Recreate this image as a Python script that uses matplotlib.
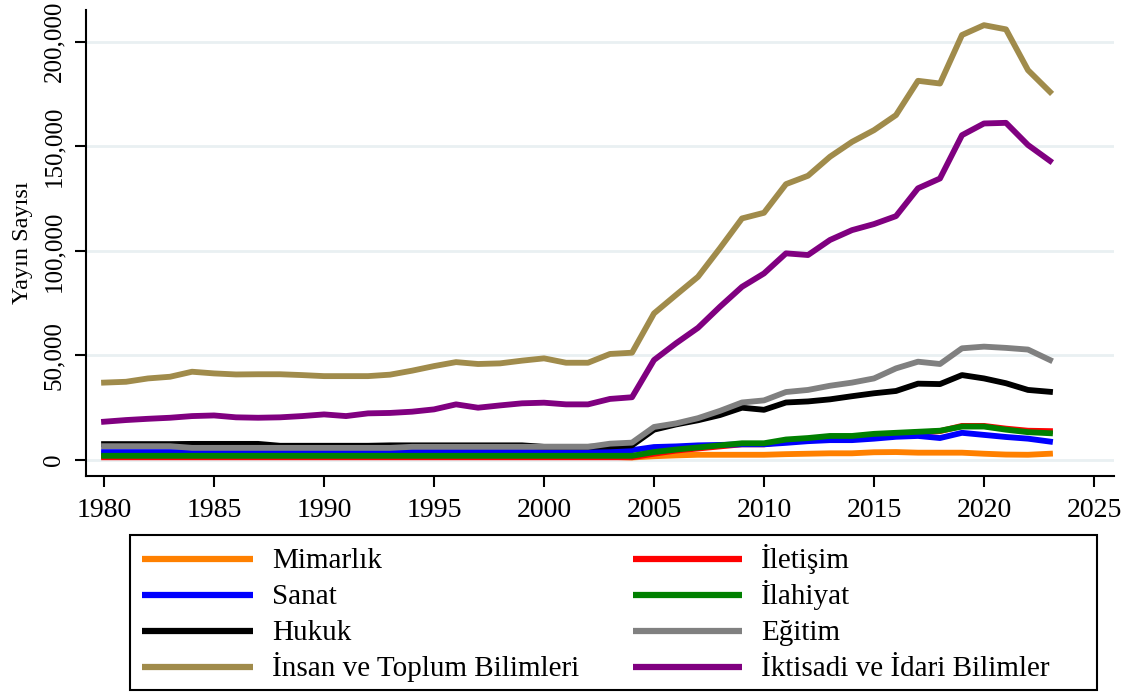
import matplotlib
matplotlib.use("Agg")
import matplotlib.pyplot as plt
from matplotlib.patches import Rectangle
from matplotlib.lines import Line2D
from matplotlib.ticker import FuncFormatter

years = list(range(1980, 2024))

mimarlik = [2900] * 21 + [2500, 2500, 1500, 1200,
            1800, 2200, 2500, 2500, 2500, 2500, 2800, 3000, 3200, 3200,
            3700, 3800, 3500, 3500, 3500, 3000, 2600, 2500, 3000]
iletisim = [1300] * 25 + [3000, 4500, 5500, 6500, 7500, 7500, 9000, 10000, 11000, 11000,
            12000, 12500, 13000, 13800, 16300, 16300, 15000, 14000, 13800]
sanat = [3800] * 14 + [4700] * 11 + [6200, 6500, 7000, 7200, 7500, 7500, 8200, 9000, 9500, 9500,
         10200, 11100, 11500, 10500, 13000, 12000, 11000, 10200, 8800]
ilahiyat = [2000] * 25 + [3800, 5000, 6000, 7000, 8000, 8000, 9800, 10500, 11500, 11500,
            12500, 13000, 13500, 14000, 16000, 16000, 14500, 13300, 12800]
hukuk = [7600] * 4 + [7700] * 4 + [6800] * 5 + [7000] * 7 + [6300, 6300, 6300, 6500, 7000,
         14500, 17000, 19000, 21500, 25000, 24000, 27500, 28000, 29000, 30500,
         31900, 33000, 36500, 36300, 40600, 39000, 36700, 33500, 32600]
egitim = [6600] * 4 + [5800] * 10 + [6300] * 9 + [7800, 8300,
          15800, 17500, 20000, 23500, 27500, 28500, 32500, 33500, 35500, 37000,
          39000, 43800, 47000, 45900, 53400, 54200, 53600, 52800, 47800]
insan = [37000, 37400, 39000, 39800, 42200, 41400, 40900, 41000, 41000, 40600,
         40100, 40100, 40100, 40800, 42700, 44900, 46800, 45900, 46200, 47500,
         48600, 46500, 46500, 50700, 51300, 70100, 78900, 87600, 101300, 115500,
         118200, 131900, 135900, 145000, 152100, 157700, 164900, 181300, 180000, 203200,
         207900, 205900, 186400, 176000]
iktisadi = [18300, 19100, 19700, 20200, 21000, 21300, 20400, 20200, 20400, 21000,
            21800, 21000, 22300, 22500, 23100, 24200, 26600, 25000, 26100, 27100,
            27400, 26600, 26600, 29200, 30000, 47800, 55800, 63200, 73300, 82800,
            89200, 98800, 98000, 105200, 109900, 112800, 116600, 129900, 134600, 155300,
            160900, 161200, 150600, 143000]

labels = ["Mimarlık", "İletişim", "Sanat", "İlahiyat", "Hukuk", "Eğitim",
          "İnsan ve Toplum Bilimleri", "İktisadi ve İdari Bilimler"]
colors = ["#ff8000", "#ff0000", "#0000ff", "#008000", "#000000", "#808080",
          "#a08b4b", "#800080"]
series = [mimarlik, iletisim, sanat, ilahiyat, hukuk, egitim, insan, iktisadi]

plt.rcParams['font.family'] = ['Liberation Serif', 'DejaVu Serif']

W, H = 1137, 693
fig = plt.figure(figsize=(W / 100, H / 100), dpi=100)
ax = fig.add_axes([86 / W, 1 - 476 / H, (1114 - 86) / W, (476 - 10) / H])

for vals, lab, col in zip(series, labels, colors):
    ax.plot(years, vals, color=col, lw=4.2, label=lab)

ax.set_xlim(1979.18, 2025.91)
ax.set_ylim(-7650, 215150)
ax.set_xticks(range(1980, 2030, 5))
ax.set_yticks(range(0, 200001, 50000))
ax.yaxis.set_major_formatter(FuncFormatter(lambda v, p: f"{int(v):,}"))
ax.grid(axis='y', color='#e9f0f2', lw=2)
ax.set_axisbelow(True)
for s in ['top', 'right']:
    ax.spines[s].set_visible(False)
for s in ['left', 'bottom']:
    ax.spines[s].set_linewidth(1.5)
ax.tick_params(axis='x', labelsize=20, length=8, width=1.5, pad=8)
ax.tick_params(axis='y', labelsize=18, length=8, width=1.5, pad=7)
for t in ax.get_yticklabels():
    t.set_rotation(90)
    t.set_va('center')
ax.set_ylabel("Yayın Sayısı", fontsize=17.5, labelpad=7)

# legend box, two columns filled row by row
fig.patches.append(Rectangle((130 / W, 1 - 690 / H), (1097 - 130) / W, (690 - 535) / H,
                             transform=fig.transFigure, fill=False, edgecolor='black', lw=1.5))
row_y = [559, 595, 631, 667]
col_x = [(142, 253, 272), (633, 742, 761)]
for i, (lab, col) in enumerate(zip(labels, colors)):
    r, c = divmod(i, 2)
    x0, x1, xt = col_x[c]
    y = 1 - row_y[r] / H
    fig.add_artist(Line2D([x0 / W, x1 / W], [y, y], transform=fig.transFigure,
                          color=col, lw=4.5, solid_capstyle='butt'))
    fig.text(xt / W, 1 - (row_y[r] + 9) / H, lab, fontsize=21, va='baseline', ha='left')

fig.savefig("out.png", dpi=100)
